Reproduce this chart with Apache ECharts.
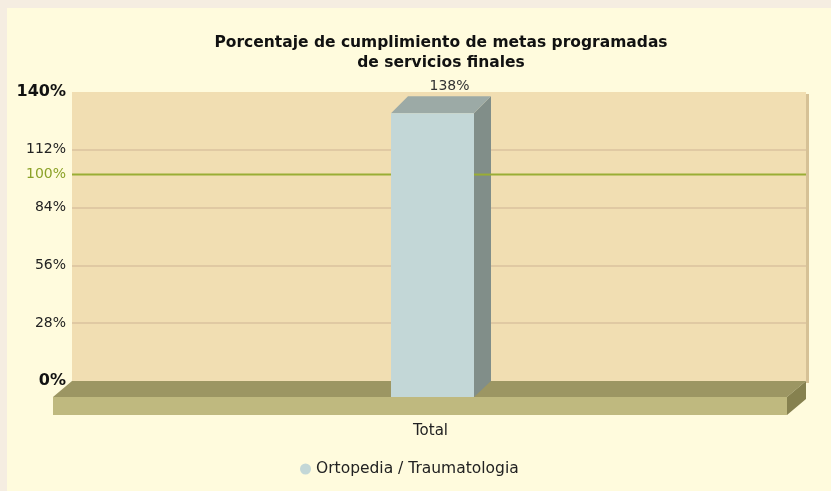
<!DOCTYPE html>
<html>
<head>
<meta charset="utf-8">
<script src="https://cdn.jsdelivr.net/npm/echarts@6/dist/echarts.min.js"></script>
<style>
html, body { margin: 0; padding: 0; background: #F5EDE1; }
#chart { width: 831px; height: 491px; }
</style>
</head>
<body>
<div id="chart"></div>
<script>
// datos del grafico
var categories = ['Total'];
var seriesName = 'Ortopedia / Traumatologia';
var values = [138];
var yTicks = [0, 28, 56, 84, 112, 140];
var trendValue = 100;

var barW = 83;   // ancho de la cara frontal
var depthX = 17; // profundidad 3D
var depthY = 17;
var trendColor = '#9AAD35';

var chart = echarts.init(document.getElementById('chart'));

// piso 3D y linea de meta
function renderFloor(params, api) {
    var cs = params.coordSys;
    var x0 = cs.x, x1 = cs.x + cs.width, yb = cs.y + cs.height;
    var fx0 = x0 - 19, fx1 = x1 - 19, fy = yb + 16, h = 18;
    var ty = api.coord([0, trendValue])[1];
    return {
        type: 'group',
        children: [
            { type: 'rect', shape: { x: x1, y: cs.y + 2, width: 3, height: cs.height }, style: { fill: '#D6C196' } },
            { type: 'line', shape: { x1: x0, y1: ty, x2: x1, y2: ty }, style: { stroke: trendColor, lineWidth: 2 } },
            {
                type: 'text',
                style: {
                    x: x0 - 6, y: ty, text: trendValue + '%', textAlign: 'right', textVerticalAlign: 'middle',
                    fill: '#8CA228', font: '14px "DejaVu Sans"'
                }
            },
            { type: 'polygon', shape: { points: [[x0, yb], [x1, yb], [fx1, fy], [fx0, fy]] }, style: { fill: '#9C9663' } },
            { type: 'rect', shape: { x: fx0, y: fy, width: fx1 - fx0, height: h }, style: { fill: '#BFB97F' } },
            { type: 'polygon', shape: { points: [[fx1, fy], [x1, yb], [x1, yb + h], [fx1, fy + h]] }, style: { fill: '#86814F' } }
        ]
    };
}

// columna 3D
function renderBar(params, api) {
    var v = api.value(1);
    var top = api.coord([api.value(0), v]);
    var base = api.coord([api.value(0), 0]);
    var ty = api.coord([0, trendValue])[1];
    var fx = top[0] - 48;          // izquierda cara frontal
    var ft = top[1] + depthY;      // arriba cara frontal
    var fb = base[1] + 16;         // abajo cara frontal
    var sx = fx + barW;
    return {
        type: 'group',
        children: [
            { type: 'polygon', shape: { points: [[sx, ft], [sx + depthX, ft - depthY], [sx + depthX, base[1]], [sx, fb]] }, style: { fill: '#818E89' } },
            { type: 'line', shape: { x1: sx, y1: ty, x2: sx + depthX, y2: ty }, style: { stroke: trendColor, lineWidth: 2 } },
            { type: 'polygon', shape: { points: [[fx, ft], [fx + depthX, ft - depthY], [sx + depthX, ft - depthY], [sx, ft]] }, style: { fill: '#9CAAA6' } },
            { type: 'rect', shape: { x: fx, y: ft, width: barW, height: fb - ft }, style: { fill: '#C3D7D7' } },
            {
                type: 'text',
                style: {
                    x: fx + depthX + barW / 2, y: top[1] - 3,
                    text: v + '%', textAlign: 'center', textVerticalAlign: 'bottom',
                    fill: '#333', font: '14px "DejaVu Sans"'
                }
            }
        ]
    };
}

var option = {
    backgroundColor: '#F5EDE1',
    textStyle: { fontFamily: '"DejaVu Sans", Verdana, sans-serif' },
    graphic: [
        { type: 'rect', left: 7, top: 8, z: -100, shape: { width: 824, height: 483 }, style: { fill: '#FFFBDD' } }
    ],
    title: {
        text: 'Porcentaje de cumplimiento de metas programadas\nde servicios finales',
        left: 436,
        top: 28,
        textAlign: 'center',
        textStyle: { fontSize: 15.5, fontWeight: 'bold', color: '#111', lineHeight: 20 }
    },
    legend: {
        data: [seriesName],
        left: 295,
        top: 456,
        icon: 'circle',
        itemWidth: 11,
        itemHeight: 11,
        textStyle: { fontSize: 15.5, color: '#222' }
    },
    grid: {
        left: 72, right: 25, top: 92, bottom: 110,
        show: true,
        backgroundColor: '#F1DEB2',
        borderWidth: 0
    },
    xAxis: {
        type: 'category',
        data: categories,
        axisLine: { show: false },
        axisTick: { show: false },
        axisLabel: { margin: 43, fontSize: 15, color: '#222', padding: [0, 17, 0, 0] }
    },
    yAxis: {
        type: 'value',
        min: yTicks[0],
        max: yTicks[yTicks.length - 1],
        interval: yTicks[1] - yTicks[0],
        axisLine: { show: false },
        axisTick: { show: false },
        splitLine: {
            lineStyle: {
                color: yTicks.map(function (t, i) { return (i === 0 || i === yTicks.length - 1) ? 'rgba(0,0,0,0)' : '#E0C9A3'; }),
                width: 2
            }
        },
        axisLabel: {
            margin: 6,
            fontSize: 14,
            color: '#222',
            formatter: function (val) {
                if (val === yTicks[0] || val === yTicks[yTicks.length - 1]) return '{b|' + val + '%}';
                return val + '%';
            },
            rich: { b: { fontSize: 16, fontWeight: 'bold', color: '#111' } }
        }
    },
    series: [
        {
            name: 'piso',
            type: 'custom',
            silent: true,
            z: 1,
            renderItem: renderFloor,
            data: [[0, 0]]
        },
        {
            name: seriesName,
            type: 'custom',
            z: 3,
            itemStyle: { color: '#C3D7D7' },
            renderItem: renderBar,
            data: values.map(function (v, i) { return [i, v]; })
        }
    ]
};

chart.setOption(option);
</script>
</body>
</html>
